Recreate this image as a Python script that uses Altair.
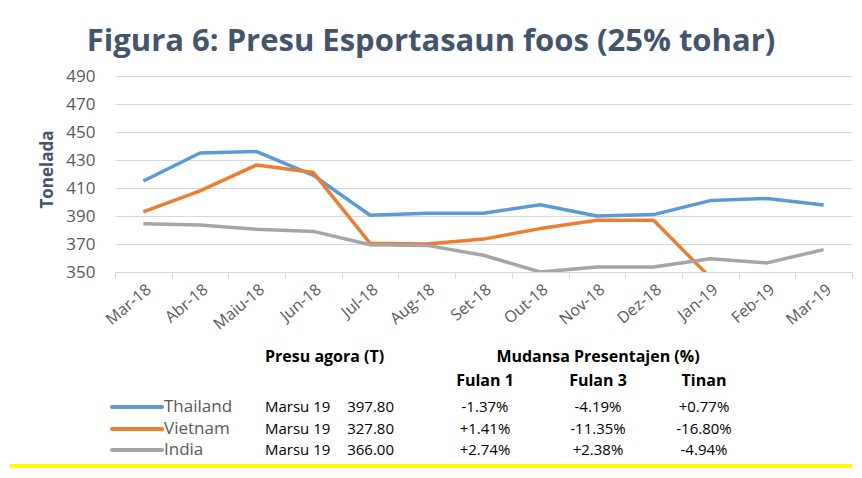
import altair as alt
import pandas as pd

# ---------------- data ----------------
months = ["Mar-18", "Abr-18", "Maiu-18", "Jun-18", "Jul-18", "Aug-18", "Set-18",
          "Out-18", "Nov-18", "Dez-18", "Jan-19", "Feb-19", "Mar-19"]
thailand = [415, 435, 436, 419, 390.5, 392, 392, 398, 390, 391, 401, 402.5, 397.8]
vietnam = [393, 408, 426.5, 421, 370.5, 370, 373.5, 381, 387, 387, 346, 335, 327.8]
india = [384.5, 383.5, 380.5, 379, 369.5, 369, 362, 350, 353.5, 353.5, 359.5, 356.5, 366]

countries = ["Thailand", "Vietnam", "India"]
colors = ["#5B9BD5", "#ED7D31", "#A5A5A5"]
y_ticks = [350, 370, 390, 410, 430, 450, 470, 490]

title_text = "Figura 6: Presu Esportasaun  foos (25% tohar)"
y_title = "Tonelada"

period_label = "Marsu 19"
prices = ["397.80", "327.80", "366.00"]
chg_1m = ["-1.37%", "+1.41%", "+2.74%"]
chg_3m = ["-4.19%", "-11.35%", "+2.38%"]
chg_1y = ["+0.77%", "-16.80%", "-4.94%"]
header_price = "Presu agora (T)"
header_change = "Mudansa Presentajen (%)"
subheaders = ["Fulan 1", "Fulan 3", "Tinan"]

FONT = "Open Sans"

# ---------------- line chart ----------------
series = {"Thailand": thailand, "Vietnam": vietnam, "India": india}
rows = []
for c in countries:
    for m, v in zip(months, series[c]):
        rows.append({"month": m, "country": c, "value": v})
df = pd.DataFrame(rows)

color_scale = alt.Scale(domain=countries, range=colors)

lines = alt.Chart(df).mark_line(strokeWidth=3.5, strokeJoin="round", clip=True).encode(
    x=alt.X("month:N", sort=months, bandPosition=0.5,
            scale=alt.Scale(type="band", paddingInner=0, paddingOuter=0),
            axis=alt.Axis(title=None, labelAngle=-40, tickBand="extent", tickSize=6,
                          tickColor="#D9D9D9", domainColor="#D9D9D9", labelColor="#595959",
                          labelFontSize=16, labelFont=FONT, labelPadding=3)),
    y=alt.Y("value:Q", scale=alt.Scale(domain=[350, 490], nice=False, zero=False),
            axis=alt.Axis(values=y_ticks, title=y_title, titleFont=FONT, titleFontSize=17,
                          titleFontWeight="bold", titleColor="#44546A", titlePadding=9,
                          titleY=93, domain=False, ticks=False, labelPadding=20,
                          labelColor="#595959", labelFontSize=17, labelFont=FONT,
                          gridColor="#D9D9D9")),
    color=alt.Color("country:N", scale=color_scale, legend=None),
    order=alt.Order("country:N"),
).properties(width=737, height=196)

# ---------------- table below ----------------
col_keys = ["legA", "legB", "label", "period", "price", "f1", "f3", "tn"]
col_px = [-3, 47, 49, 150, 279, 370, 483, 589]
row_keys = ["head", "sub", "Thailand", "Vietnam", "India"]
row_px = [20, 44, 70, 92, 113]

xs = alt.Scale(domain=list(range(len(col_keys))), range=col_px, zero=False, nice=False)
ys = alt.Scale(domain=list(range(len(row_keys))), range=row_px, zero=False, nice=False)


def ci(k):
    return col_keys.index(k)


def ri(k):
    return row_keys.index(k)


def txt_df(cells):
    return pd.DataFrame([{"c": ci(c), "r": ri(r), "text": t} for r, c, t in cells])


def enc(ch):
    return ch.encode(x=alt.X("c:Q", scale=xs, axis=None),
                     y=alt.Y("r:Q", scale=ys, axis=None), text="text:N")


leg_df = pd.DataFrame({"r": [ri(c) for c in countries], "c": [ci("legA")] * 3,
                       "c2": [ci("legB")] * 3, "country": countries})
legend_lines = alt.Chart(leg_df).mark_rule(strokeWidth=4, strokeCap="round").encode(
    x=alt.X("c:Q", scale=xs, axis=None),
    x2="c2:Q",
    y=alt.Y("r:Q", scale=ys, axis=None),
    color=alt.Color("country:N", scale=color_scale, legend=None),
)

legend_labels = enc(alt.Chart(txt_df([(c, "label", c) for c in countries])).mark_text(
    align="left", baseline="middle", font=FONT, fontSize=17, color="#595959"))

left_txt = enc(alt.Chart(txt_df([(c, "period", period_label) for c in countries])).mark_text(
    align="left", baseline="middle", font=FONT, fontSize=15, color="black"))

price_txt = enc(alt.Chart(txt_df([(c, "price", p) for c, p in zip(countries, prices)])).mark_text(
    align="right", baseline="middle", font=FONT, fontSize=15, color="black"))

pct_cells = []
for i, c in enumerate(countries):
    pct_cells += [(c, "f1", chg_1m[i]), (c, "f3", chg_3m[i]), (c, "tn", chg_1y[i])]
pct_txt = enc(alt.Chart(txt_df(pct_cells)).mark_text(
    align="center", baseline="middle", font=FONT, fontSize=15, color="black"))

head_left = enc(alt.Chart(txt_df([("head", "period", header_price)])).mark_text(
    align="left", baseline="middle", font=FONT, fontSize=16, fontWeight="bold", color="black"))

head_center = enc(alt.Chart(txt_df([("head", "f3", header_change), ("sub", "f1", subheaders[0]),
                                    ("sub", "f3", subheaders[1]), ("sub", "tn", subheaders[2])]))
                  .mark_text(align="center", baseline="middle", font=FONT, fontSize=16,
                             fontWeight="bold", color="black"))

yellow = alt.Chart(pd.DataFrame({"r": [0]})).mark_rule(color="#FFFF00", strokeWidth=4).encode(
    x=alt.value(-105), x2=alt.value(737), y=alt.value(129))

table = alt.layer(legend_lines, legend_labels, left_txt, price_txt, pct_txt, head_left,
                  head_center, yellow).properties(width=737, height=131)

chart = alt.vconcat(lines, table, spacing=4).properties(
    title=alt.Title(title_text, font=FONT, fontSize=31, fontWeight="bold", color="#44546A",
                    anchor="middle", offset=9),
    padding={"left": 0, "top": 18, "right": 0, "bottom": 0},
    background="white",
).configure_view(strokeWidth=0).resolve_scale(x="independent", y="independent", color="shared")

chart.save("out.html", embed_options={"renderer": "svg", "actions": False})
